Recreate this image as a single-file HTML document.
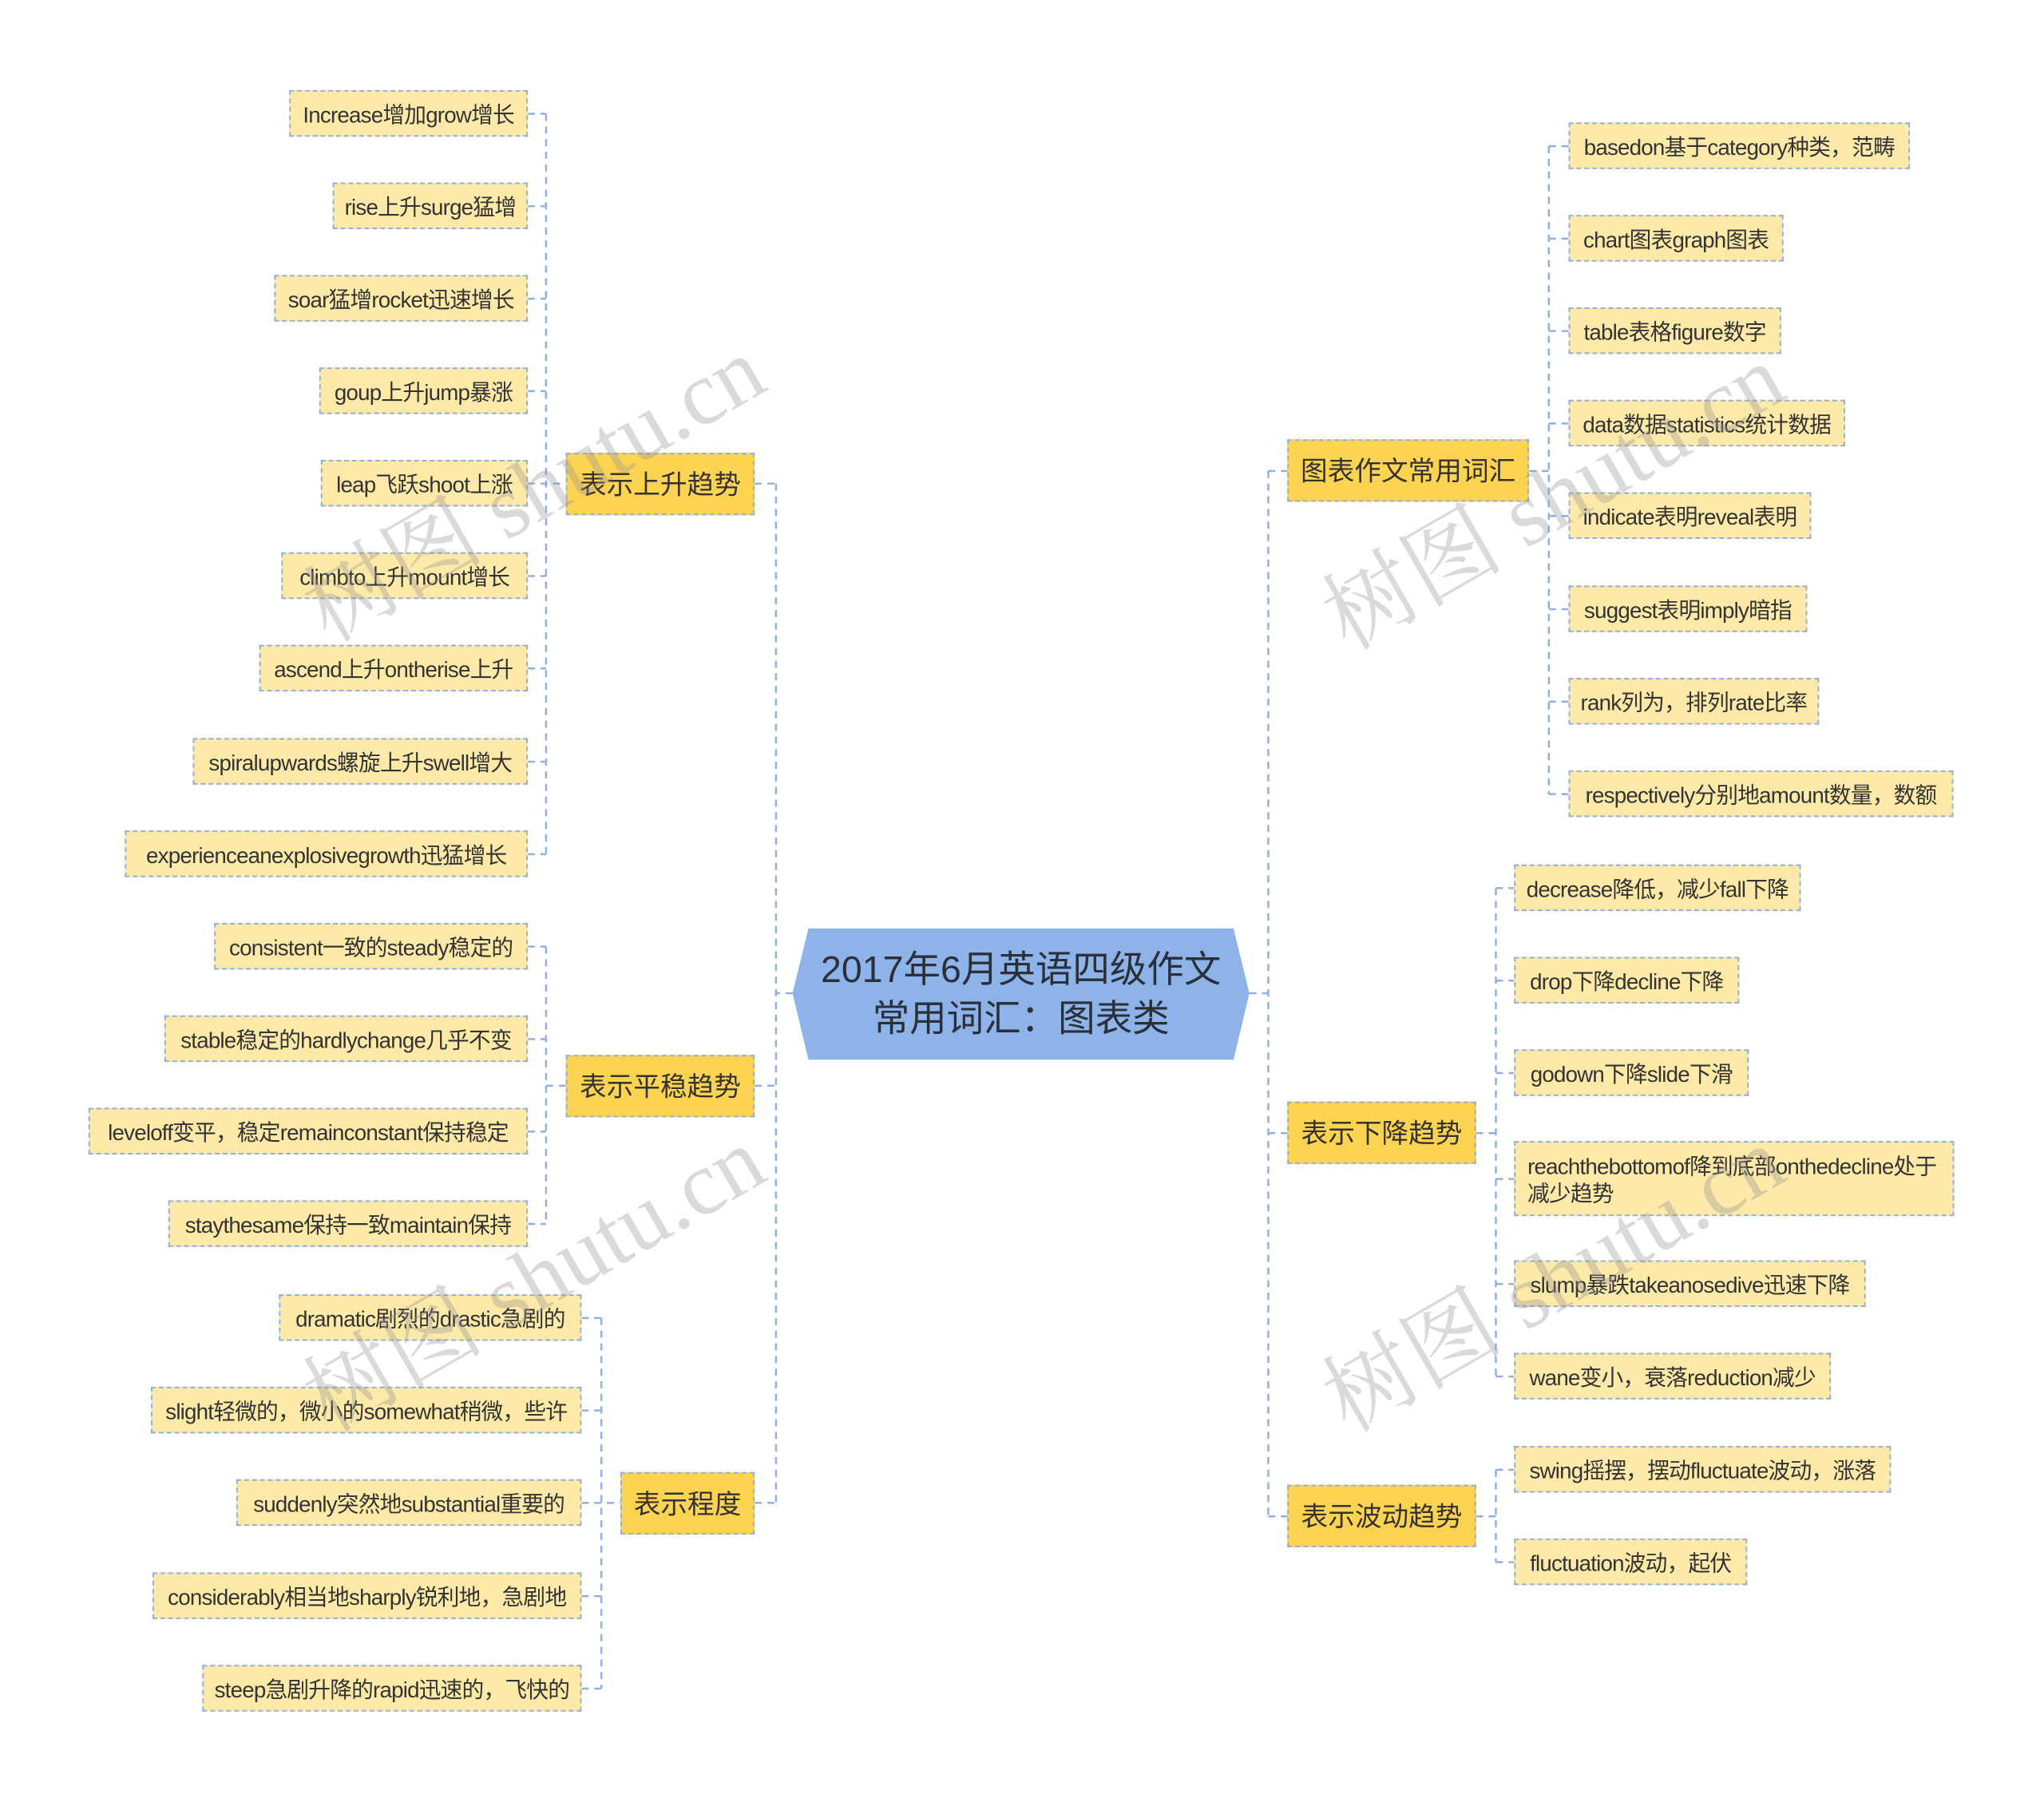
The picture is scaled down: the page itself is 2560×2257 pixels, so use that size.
<!DOCTYPE html>
<html><head><meta charset="utf-8">
<style>
body{margin:0;background:#fff;}
#o{position:relative;width:2560px;height:2257px;overflow:hidden;}
#c{position:absolute;left:0;top:0;width:2600px;height:2300px;transform:scale(0.9897);transform-origin:0 0;font-family:"Liberation Sans","Noto Sans CJK SC",sans-serif;color:#333;}
.l{position:absolute;height:59px;line-height:59px;background:#fde9a8;border:2px dashed #8fb0e0;box-sizing:border-box;font-size:28px;text-align:center;white-space:nowrap;letter-spacing:-0.8px;}
.m{position:absolute;height:79px;line-height:79px;background:#fdd352;border:2px dashed #8fb0e0;box-sizing:border-box;font-size:34px;text-align:center;white-space:nowrap;}
.w{position:absolute;font-family:"Liberation Serif","Noto Serif CJK SC",serif;font-size:115px;color:rgba(150,150,150,0.35);transform:rotate(-30deg);transform-origin:left top;white-space:nowrap;}
</style></head><body><div id="o"><div id="c">
<svg width="2600" height="2300" style="position:absolute;left:0;top:0">
<g stroke="#8fb0e0" stroke-width="2.5" stroke-dasharray="9,7" fill="none">
<path d="M1003 1257 H982 M982 612 V1902 M955 612 H982 M955 1374 H982 M955 1902 H982"/>
<path d="M691 144 V1081 M668 144 H691 M668 261 H691 M668 378 H691 M668 495 H691 M668 612 H716 M668 729 H691 M668 846 H691 M668 964 H691 M668 1081 H691"/>
<path d="M691 1198 V1549 M668 1198 H691 M668 1315 H691 M668 1432 H691 M668 1549 H691 M691 1374 H716"/>
<path d="M761 1668 V2137 M736 1668 H761 M736 1785 H761 M736 1902 H785 M736 2020 H761 M736 2137 H761"/>
<path d="M1581 1257 H1605 M1605 596 V1919 M1605 596 H1629 M1605 1434 H1629 M1605 1919 H1629"/>
<path d="M1960 185 V1005 M1935 596 H1960 M1960 185 H1985 M1960 302 H1985 M1960 419 H1985 M1960 536 H1985 M1960 653 H1985 M1960 771 H1985 M1960 888 H1985 M1960 1005 H1985"/>
<path d="M1893 1124 V1742 M1868 1434 H1893 M1893 1124 H1916 M1893 1241 H1916 M1893 1358 H1916 M1893 1492 H1916 M1893 1625 H1916 M1893 1742 H1916"/>
<path d="M1893 1860 V1977 M1868 1919 H1893 M1893 1860 H1916 M1893 1977 H1916"/>
</g>
<polygon points="1003,1257 1023,1175 1561,1175 1581,1257 1561,1341 1023,1341" fill="#8db3e8"/>
<text x="1292" y="1243" font-size="47" text-anchor="middle" fill="#2a2f3a" font-family="Liberation Sans, Noto Sans CJK SC, sans-serif">2017年6月英语四级作文</text>
<text x="1292" y="1305" font-size="47" text-anchor="middle" fill="#2a2f3a" font-family="Liberation Sans, Noto Sans CJK SC, sans-serif">常用词汇：图表类</text>
</svg>

<div class="m" style="left:716px;top:573px;width:239px">表示上升趋势</div>
<div class="m" style="left:716px;top:1335px;width:239px">表示平稳趋势</div>
<div class="m" style="left:785px;top:1863px;width:170px">表示程度</div>
<div class="m" style="left:1629px;top:556px;width:306px">图表作文常用词汇</div>
<div class="m" style="left:1629px;top:1394px;width:239px">表示下降趋势</div>
<div class="m" style="left:1629px;top:1879px;width:239px">表示波动趋势</div>

<div class="l" style="left:366px;top:114px;width:302px">Increase增加grow增长</div>
<div class="l" style="left:421px;top:231px;width:247px">rise上升surge猛增</div>
<div class="l" style="left:347px;top:348px;width:321px">soar猛增rocket迅速增长</div>
<div class="l" style="left:404px;top:465px;width:264px">goup上升jump暴涨</div>
<div class="l" style="left:406px;top:582px;width:262px">leap飞跃shoot上涨</div>
<div class="l" style="left:356px;top:699px;width:312px">climbto上升mount增长</div>
<div class="l" style="left:328px;top:816px;width:340px">ascend上升ontherise上升</div>
<div class="l" style="left:244px;top:934px;width:424px">spiralupwards螺旋上升swell增大</div>
<div class="l" style="left:158px;top:1051px;width:510px">experienceanexplosivegrowth迅猛增长</div>

<div class="l" style="left:271px;top:1168px;width:397px">consistent一致的steady稳定的</div>
<div class="l" style="left:208px;top:1285px;width:460px">stable稳定的hardlychange几乎不变</div>
<div class="l" style="left:112px;top:1402px;width:556px">leveloff变平，稳定remainconstant保持稳定</div>
<div class="l" style="left:213px;top:1519px;width:455px">staythesame保持一致maintain保持</div>

<div class="l" style="left:353px;top:1638px;width:383px">dramatic剧烈的drastic急剧的</div>
<div class="l" style="left:191px;top:1755px;width:545px">slight轻微的，微小的somewhat稍微，些许</div>
<div class="l" style="left:299px;top:1872px;width:437px">suddenly突然地substantial重要的</div>
<div class="l" style="left:193px;top:1990px;width:543px">considerably相当地sharply锐利地，急剧地</div>
<div class="l" style="left:256px;top:2107px;width:480px">steep急剧升降的rapid迅速的，飞快的</div>

<div class="l" style="left:1985px;top:155px;width:432px">basedon基于category种类，范畴</div>
<div class="l" style="left:1985px;top:272px;width:272px">chart图表graph图表</div>
<div class="l" style="left:1985px;top:389px;width:269px">table表格figure数字</div>
<div class="l" style="left:1985px;top:506px;width:350px">data数据statistics统计数据</div>
<div class="l" style="left:1985px;top:623px;width:307px">indicate表明reveal表明</div>
<div class="l" style="left:1985px;top:741px;width:302px">suggest表明imply暗指</div>
<div class="l" style="left:1985px;top:858px;width:317px">rank列为，排列rate比率</div>
<div class="l" style="left:1985px;top:975px;width:487px">respectively分别地amount数量，数额</div>

<div class="l" style="left:1916px;top:1094px;width:363px">decrease降低，减少fall下降</div>
<div class="l" style="left:1916px;top:1211px;width:285px">drop下降decline下降</div>
<div class="l" style="left:1916px;top:1328px;width:297px">godown下降slide下滑</div>
<div class="l" style="left:1916px;top:1444px;width:557px;height:95px;line-height:34px;text-align:left;padding:14px 0 0 15px;white-space:normal;">reachthebottomof降到底部onthedecline处于减少趋势</div>
<div class="l" style="left:1916px;top:1595px;width:445px">slump暴跌takeanosedive迅速下降</div>
<div class="l" style="left:1916px;top:1712px;width:401px">wane变小，衰落reduction减少</div>

<div class="l" style="left:1916px;top:1830px;width:477px">swing摇摆，摆动fluctuate波动，涨落</div>
<div class="l" style="left:1916px;top:1947px;width:295px">fluctuation波动，起伏</div>

<div class="w" style="left:350px;top:700px">树图 shutu.cn</div>
<div class="w" style="left:350px;top:1700px">树图 shutu.cn</div>
<div class="w" style="left:1640px;top:710px">树图 shutu.cn</div>
<div class="w" style="left:1640px;top:1700px">树图 shutu.cn</div>
</div></div></body></html>
